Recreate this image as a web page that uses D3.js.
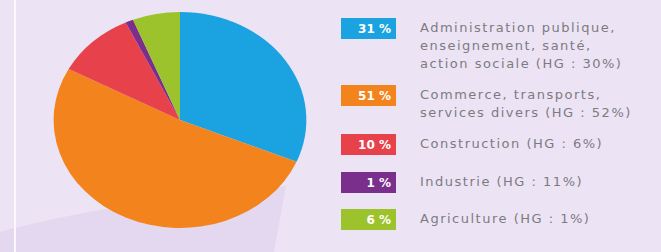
<!DOCTYPE html>
<html>
<head>
<meta charset="utf-8">
<script src="https://cdn.jsdelivr.net/npm/d3@7"></script>
<style>
    body { margin: 0; background: #ece4f4; }
    svg { display: block; }
</style>
</head>
<body>
<svg id="chart" width="661" height="252"></svg>
<script>
// sectors, in drawing order (clockwise from 12 o'clock)
let shares = [31, 51, 10, 1, 6];
let shareLabels = ["31 %", "51 %", "10 %", "1 %", "6 %"];
let sectorLines = [
    ["Administration publique,", "enseignement, santé,", "action sociale (HG : 30%)"],
    ["Commerce, transports,", "services divers (HG : 52%)"],
    ["Construction (HG : 6%)"],
    ["Industrie (HG : 11%)"],
    ["Agriculture (HG : 1%)"],
];
let colors = ["#1ba2e0", "#f3831d", "#e7424b", "#7a2f8c", "#9cc32b"];

let width = 661, height = 252;
let svg = d3.select("#chart");

// background decoration
svg.append("rect").attr("width", width).attr("height", height).attr("fill", "#ece4f4");
svg.append("path")
    .attr("d", "M0,232 C70,212 180,196 286,186 L274,252 L0,252 Z")
    .attr("fill", "#e3d8ef");
svg.append("rect")
    .attr("x", 14).attr("y", 0).attr("width", 2).attr("height", height)
    .attr("fill", "#fbf8fd");

// pie, slightly stretched horizontally like the original
let cx = 180, cy = 120, ry = 108, sx = 1.17;
let pie = d3.pie().sort(null).value(d => d);
let arc = d3.arc().innerRadius(0).outerRadius(ry);

svg.append("g")
    .attr("transform", `translate(${cx},${cy}) scale(${sx},1)`)
    .selectAll("path")
    .data(pie(shares))
    .join("path")
    .attr("d", arc)
    .attr("fill", (d, i) => colors[i]);

// legend
let boxX = 341, boxW = 55, boxH = 21, textX = 420, lineH = 18;
let rowTop = [18, 85, 134, 172, 209];

let leg = svg.append("g");
shares.forEach((v, i) => {
    leg.append("rect")
        .attr("x", boxX).attr("y", rowTop[i])
        .attr("width", boxW).attr("height", boxH)
        .attr("fill", colors[i]);
    leg.append("text")
        .attr("x", boxX + boxW - 5).attr("y", rowTop[i] + 15)
        .attr("text-anchor", "end")
        .style("font-family", "'DejaVu Sans', sans-serif")
        .style("font-size", "12px")
        .style("font-weight", "bold")
        .attr("fill", "#ffffff")
        .text(shareLabels[i]);
    let t = leg.append("text")
        .attr("x", textX).attr("y", rowTop[i] + 14)
        .style("font-family", "'DejaVu Sans', sans-serif")
        .style("font-size", "13px")
        .style("letter-spacing", "1.5px")
        .attr("fill", "#7d7b82");
    sectorLines[i].forEach((ln, k) => {
        t.append("tspan").attr("x", textX).attr("dy", k == 0 ? 0 : lineH).text(ln);
    });
});
</script>
</body>
</html>
